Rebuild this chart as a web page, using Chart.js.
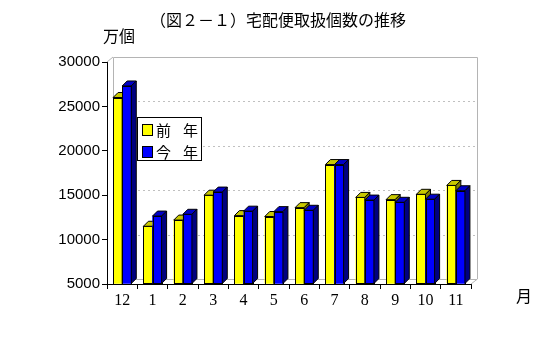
<!DOCTYPE html>
<html lang="ja">
<head>
  <meta charset="UTF-8">
  <title>宅配便取扱個数の推移</title>
  <script src="https://cdn.jsdelivr.net/npm/chart.js"></script>
  <style>
    body { margin: 0; background: #fff; }
    #wrap { width: 560px; height: 348px; }
  </style>
</head>
<body>
  <div id="wrap"><canvas id="chart" width="560" height="348"></canvas></div>
  <script>
    // データ（万個）
    const months = ['12', '1', '2', '3', '4', '5', '6', '7', '8', '9', '10', '11'];
    const zennen = [26000, 11500, 12200, 15000, 12700, 12600, 13600, 18450, 14750, 14500, 15100, 16100];
    const konnen = [27300, 12650, 12850, 15350, 13200, 13150, 13300, 18450, 14450, 14200, 14550, 15500];
    const yTicks = [5000, 10000, 15000, 20000, 25000, 30000];

    const JP = '"Noto Sans CJK JP", sans-serif';
    const DEPTH = 5;      // 棒の奥行き
    const WALL_DX = 6, WALL_DY = 5;

    // 背面の壁と点線の目盛線
    const wallPlugin = {
      id: 'wall',
      beforeDatasetsDraw(chart) {
        const { ctx, chartArea: a, scales: { y } } = chart;
        ctx.save();
        ctx.strokeStyle = '#c0c0c0';
        ctx.lineWidth = 1;
        ctx.setLineDash([2, 3]);
        yTicks.slice(1, -1).forEach(v => {
          const py = Math.round(y.getPixelForValue(v) - WALL_DY) + 0.5;
          ctx.beginPath();
          ctx.moveTo(a.left + WALL_DX, py);
          ctx.lineTo(a.right + WALL_DX, py);
          ctx.stroke();
        });
        ctx.setLineDash([]);
        ctx.strokeStyle = '#b4b4b4';
        ctx.beginPath();
        ctx.moveTo(a.left + WALL_DX + 0.5, a.bottom - WALL_DY);
        ctx.lineTo(a.left + WALL_DX + 0.5, a.top - WALL_DY + 0.5);
        ctx.lineTo(a.right + WALL_DX + 0.5, a.top - WALL_DY + 0.5);
        ctx.lineTo(a.right + WALL_DX + 0.5, a.bottom - WALL_DY);
        ctx.lineTo(a.right, a.bottom);
        ctx.moveTo(a.left, a.top);
        ctx.lineTo(a.left + WALL_DX, a.top - WALL_DY);
        ctx.moveTo(a.left + WALL_DX, a.bottom - WALL_DY + 0.5);
        ctx.lineTo(a.right + WALL_DX, a.bottom - WALL_DY + 0.5);
        ctx.stroke();
        ctx.restore();
      }
    };

    function drawFront(ctx, bar, col) {
      const l = bar.x - bar.width / 2;
      ctx.fillStyle = col;
      ctx.fillRect(l, bar.y, bar.width, bar.base - bar.y);
      ctx.strokeRect(Math.round(l) + 0.5, Math.round(bar.y) + 0.5, Math.round(bar.width), Math.round(bar.base - bar.y));
    }

    function drawCap(ctx, bar, topCol, sideCol) {
      const l = bar.x - bar.width / 2, r = bar.x + bar.width / 2;
      const t = bar.y, b = bar.base, d = DEPTH;
      ctx.fillStyle = topCol;
      ctx.beginPath();
      ctx.moveTo(l, t); ctx.lineTo(r, t); ctx.lineTo(r + d, t - d); ctx.lineTo(l + d, t - d);
      ctx.closePath(); ctx.fill(); ctx.stroke();
      ctx.fillStyle = sideCol;
      ctx.beginPath();
      ctx.moveTo(r, t); ctx.lineTo(r + d, t - d); ctx.lineTo(r + d, b - d); ctx.lineTo(r, b);
      ctx.closePath(); ctx.fill(); ctx.stroke();
    }

    // 棒を手前から順に立体で描く（前年 → 今年）
    const bar3dPlugin = {
      id: 'bar3d',
      afterDatasetsDraw(chart) {
        const { ctx } = chart;
        const sets = chart.data.datasets;
        const metas = sets.map((_, i) => chart.getDatasetMeta(i));
        ctx.save();
        ctx.strokeStyle = '#000';
        ctx.lineWidth = 1;
        months.forEach((_, j) => {
          metas.forEach((m, i) => {
            const bar = m.data[j];
            drawFront(ctx, bar, sets[i].backgroundColor);
            drawCap(ctx, bar, sets[i].topColor, sets[i].sideColor);
          });
        });
        ctx.restore();
      }
    };

    // タイトル・単位・凡例
    const textPlugin = {
      id: 'texts',
      afterDraw(chart) {
        const { ctx } = chart;
        ctx.save();
        ctx.fillStyle = '#000';
        ctx.textBaseline = 'middle';
        ctx.font = '16px ' + JP;
        ctx.textAlign = 'left';
        ctx.fillText('（図２－１）宅配便取扱個数の推移', 150, 20);
        ctx.fillText('万個', 103, 36);
        ctx.fillText('月', 516, 296);

        // 凡例
        ctx.fillStyle = '#fff';
        ctx.fillRect(137, 117, 64, 43);
        ctx.strokeStyle = '#000';
        ctx.lineWidth = 1;
        ctx.strokeRect(137.5, 117.5, 64, 43);
        const items = [['前', '#ffff00', 130], ['今', '#0000ff', 152]];
        items.forEach(([txt, col, cy]) => {
          ctx.fillStyle = col;
          ctx.fillRect(142, cy - 6, 10, 11);
          ctx.strokeRect(142.5, cy - 5.5, 10, 11);
          ctx.fillStyle = '#000';
          ctx.font = '15px ' + JP;
          ctx.fillText(txt, 156, cy);
          ctx.fillText('年', 183, cy);
        });
        ctx.restore();
      }
    };

    new Chart(document.getElementById('chart'), {
      type: 'bar',
      data: {
        labels: months,
        datasets: [
          {
            label: '前 年', data: zennen, base: 5000,
            backgroundColor: '#ffff00', borderColor: '#000', borderWidth: 0,
            topColor: '#c8c800', sideColor: '#808000',
            categoryPercentage: 0.6, barPercentage: 1.0
          },
          {
            label: '今 年', data: konnen, base: 5000,
            backgroundColor: '#0000ff', borderColor: '#000', borderWidth: 0,
            topColor: '#0000c8', sideColor: '#000080',
            categoryPercentage: 0.6, barPercentage: 1.0
          }
        ]
      },
      options: {
        responsive: false,
        animation: false,
        layout: { padding: { top: 62, right: 89, left: 0, bottom: 0 } },
        plugins: { legend: { display: false }, tooltip: { enabled: false } },
        scales: {
          x: {
            afterFit: s => { s.height = 64; },
            grid: { offset: true, drawOnChartArea: false, color: '#000', tickLength: 5 },
            border: { color: '#000' },
            ticks: {
              autoSkip: false, maxRotation: 0, padding: 2, color: '#000',
              font: { family: '"Liberation Serif", serif', size: 16 }
            }
          },
          y: {
            min: 5000, max: 30000,
            afterFit: s => { s.width = 107; },
            afterBuildTicks: s => { s.ticks = yTicks.map(v => ({ value: v })); },
            grid: { drawOnChartArea: false, color: '#000', tickLength: 5 },
            border: { color: '#000' },
            ticks: {
              padding: 2, color: '#000',
              callback: v => String(v),
              font: { family: '"Liberation Sans", sans-serif', size: 15 }
            }
          }
        }
      },
      plugins: [wallPlugin, bar3dPlugin, textPlugin]
    });
  </script>
</body>
</html>
